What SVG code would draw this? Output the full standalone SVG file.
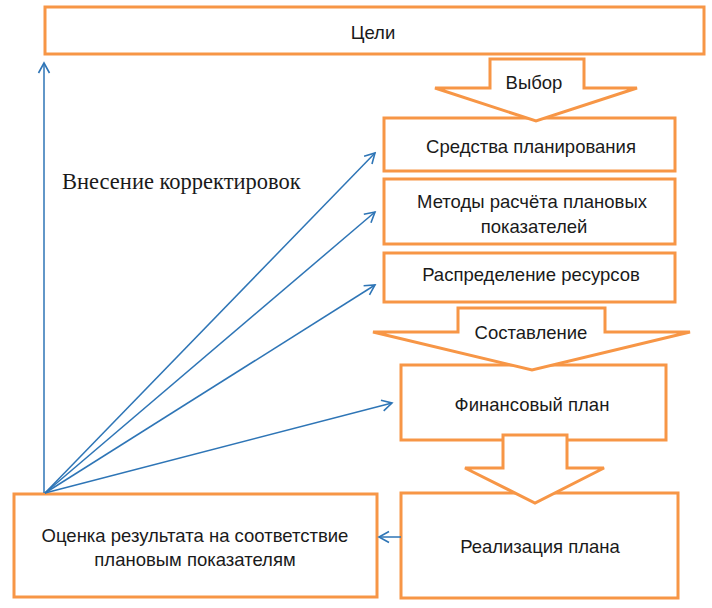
<svg xmlns="http://www.w3.org/2000/svg" width="712" height="608" viewBox="0 0 712 608">
<style>
.box{fill:none;stroke:#F79646;stroke-width:3}
.blk{fill:#fff;stroke:#F79646;stroke-width:3;stroke-linejoin:miter}
.t{font-family:"Liberation Sans",Arial,sans-serif;font-size:18.5px;fill:#1a1a1a;text-anchor:middle}
.s{font-family:"Liberation Serif","Times New Roman",serif;font-size:22.5px;fill:#1a1a1a}
.c{stroke:#2E75B6;stroke-width:1.5;fill:none}
</style>
<defs>
<marker id="ah" markerUnits="userSpaceOnUse" markerWidth="14" markerHeight="14" viewBox="0 0 14 14" refX="12" refY="7" orient="auto">
<path d="M2,1.5 L12,7 L2,12.5" fill="none" stroke="#2E75B6" stroke-width="1.6"/>
</marker>
</defs>
<rect width="712" height="608" fill="#fff"/>
<g id="goals"><rect class="box" x="45" y="7" width="659" height="47"/><text class="t" x="373" y="39">Цели</text></g>
<g id="tools"><rect class="box" x="384" y="118" width="291" height="53"/><text class="t" x="531" y="153">Средства планирования</text></g>
<g id="methods"><rect class="box" x="384" y="179" width="291" height="65"/><text class="t" x="532" y="208">Методы расчёта плановых</text><text class="t" x="534" y="233">показателей</text></g>
<g id="resources"><rect class="box" x="384" y="253" width="291" height="49"/><text class="t" x="531" y="281">Распределение ресурсов</text></g>
<g id="finplan"><rect class="box" x="401" y="365" width="265" height="75"/><text class="t" x="532" y="411">Финансовый план</text></g>
<g id="evaluation"><rect class="box" x="14" y="494" width="363" height="103"/><text class="t" x="195" y="542">Оценка результата на соответствие</text><text class="t" x="195" y="566">плановым показателям</text></g>
<g id="implementation"><rect class="box" x="401" y="493" width="277" height="105"/><text class="t" x="540" y="553">Реализация плана</text></g>
<g id="arrow-choice"><polygon class="blk" points="490,59 584,59 584,88 637,88 536,121 435,88 490,88"/><text class="t" x="534" y="89">Выбор</text></g>
<g id="arrow-compose"><polygon class="blk" points="458,308 605,308 605,332 690,332 532,370 373,332 458,332"/><text class="t" x="531" y="339">Составление</text></g>
<g id="arrow-implement"><polygon class="blk" points="503,435 567,435 567,468 604,468 535,503 465,468 503,468"/></g>
<g id="connectors">
<line class="c" x1="44" y1="493" x2="44" y2="63" marker-end="url(#ah)"/>
<line class="c" x1="45" y1="493" x2="375" y2="153" marker-end="url(#ah)"/>
<line class="c" x1="45" y1="493" x2="375" y2="212" marker-end="url(#ah)"/>
<line class="c" x1="45" y1="493" x2="375" y2="285" marker-end="url(#ah)"/>
<line class="c" x1="45" y1="493" x2="392" y2="403" marker-end="url(#ah)"/>
<line class="c" x1="401" y1="537" x2="379" y2="537" marker-end="url(#ah)"/>
</g>
<text class="s" x="62" y="189">Внесение корректировок</text>
</svg>
